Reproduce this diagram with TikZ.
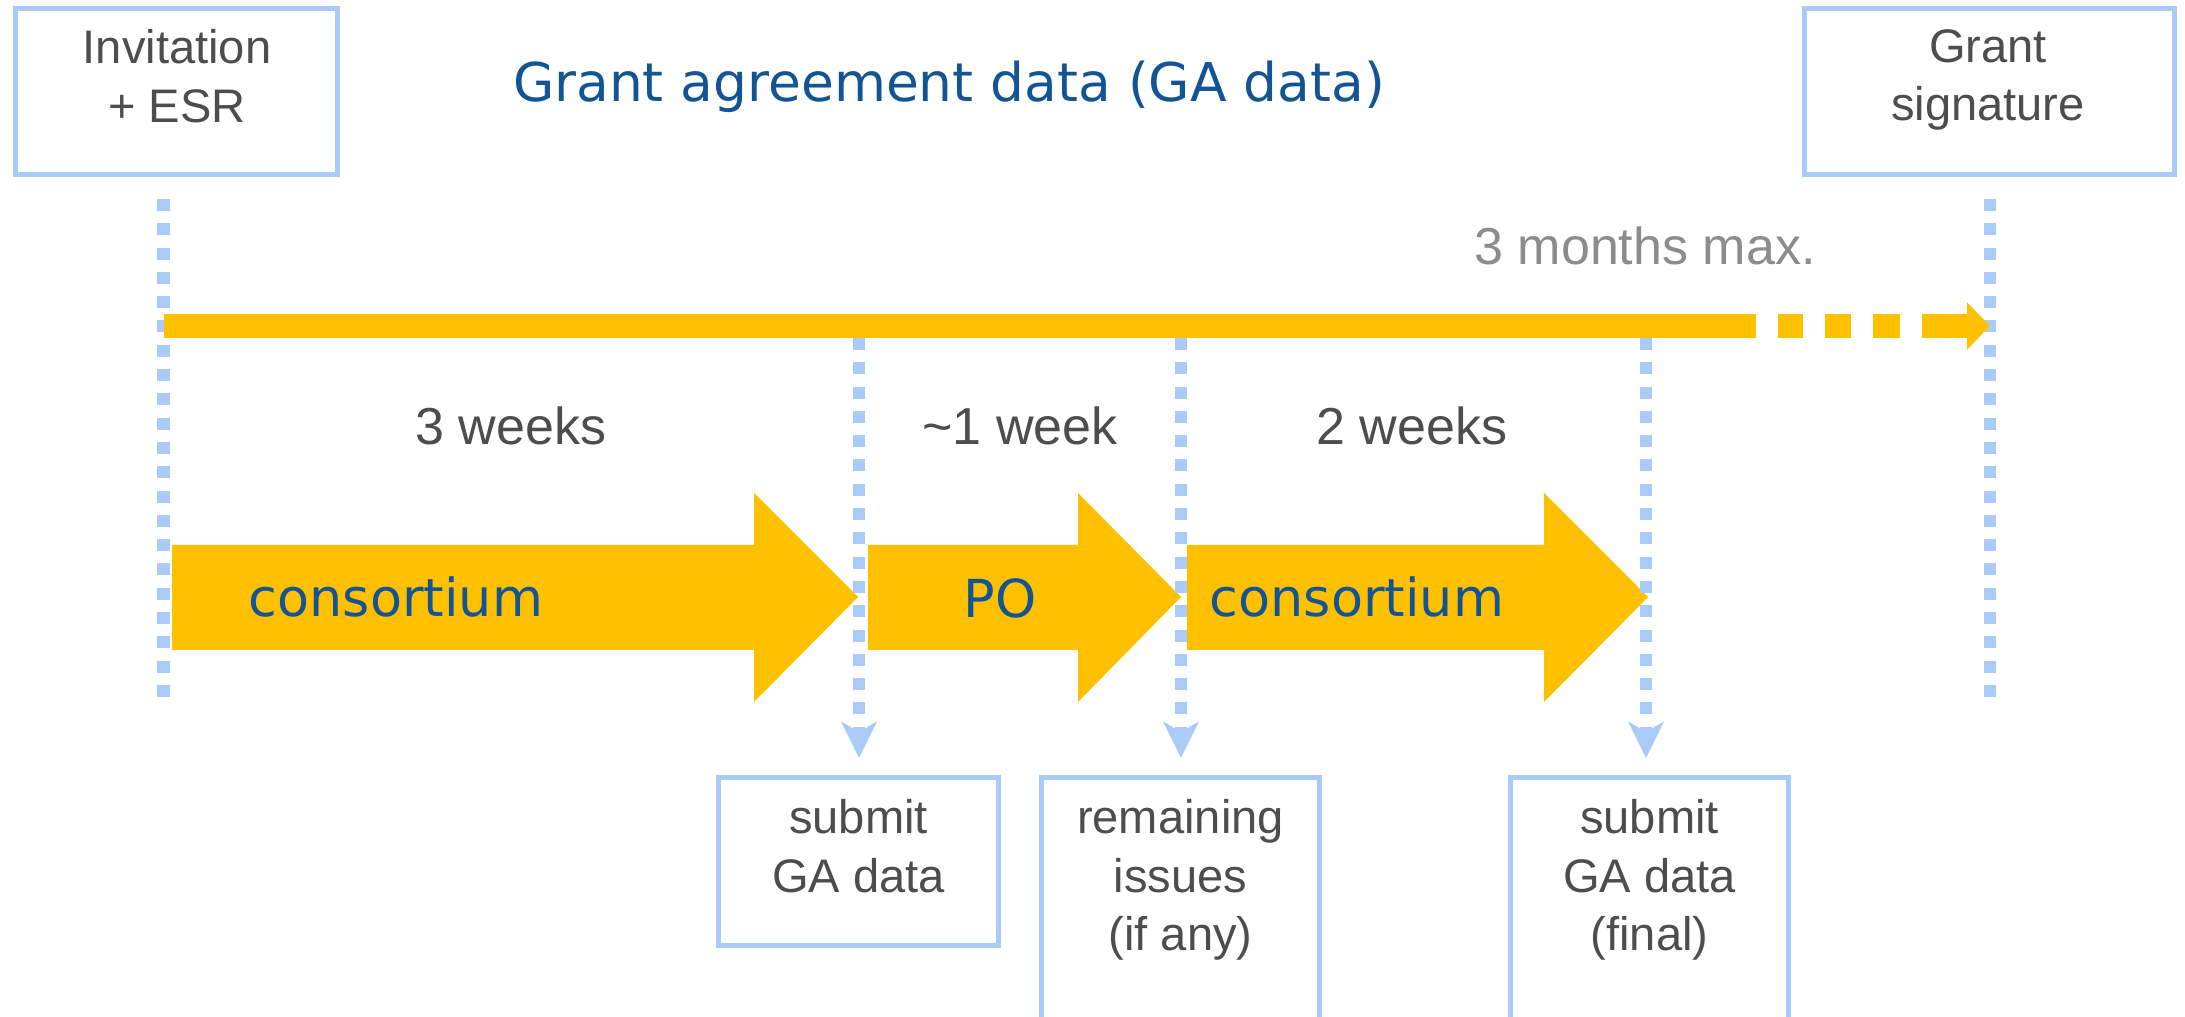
\documentclass[tikz,border=0pt]{standalone}
\usepackage{fontspec}
\setmainfont{Liberation Sans}
\newfontfamily\verd{DejaVu Sans}
\usetikzlibrary{arrows.meta, positioning}

\definecolor{lblue}{RGB}{170,202,248}
\definecolor{orng}{RGB}{255,192,0}
\definecolor{tblue}{RGB}{19,84,148}
\definecolor{dgray}{RGB}{77,77,77}
\definecolor{mgray}{RGB}{140,140,140}

\tikzset{
  tbox/.style={draw=lblue, line width=0.05cm, inner sep=0pt, outer sep=0pt},
  btext/.style={font=\fontsize{13.4}{16.6}\selectfont, text=dgray, align=center, inner sep=0pt, anchor=north},
  weektxt/.style={font=\fontsize{14.8}{17}\selectfont, text=dgray, inner sep=0pt, anchor=base},
  arrowtxt/.style={font=\verd\fontsize{14.9}{17}\selectfont, text=tblue, inner sep=0pt, anchor=base},
  dots/.style={lblue, line width=0.125cm, dash pattern=on 0.12cm off 0.123cm},
}

\begin{document}
\begin{tikzpicture}
\useasboundingbox (0,0) rectangle (21.85,10.16);
\clip (0,0) rectangle (21.85,10.16);

% Top boxes and title
\node[tbox, minimum width=3.22cm, minimum height=1.66cm] (invite) at (1.765,9.245) {};
\node[btext] (invitetxt) at (1.77,9.87) {Invitation\\+ ESR};
\node[tbox, minimum width=3.70cm, minimum height=1.66cm] (grant) at (19.895,9.245) {};
\node[btext] (granttxt) at (19.88,9.87) {Grant\\signature};
\node[arrowtxt, font=\verd\fontsize{15.2}{18}\selectfont] (title) at (9.49,9.14) {Grant agreement data (GA data)};

% Long dotted lines
\coordinate (invtop) at (1.635,8.17);
\coordinate (invbot) at (1.635,3.18);
\coordinate (grtop) at (19.90,8.17);
\coordinate (grbot) at (19.90,3.18);
\draw[dots] (invtop) -- (invbot);
\draw[dots] (grtop) -- (grbot);

% Timeline
\coordinate (bar0) at (1.64,6.90);
\coordinate (bar1) at (19.90,6.90);
\draw[orng, line width=0.24cm,
  dash pattern=on 15.92cm off 0.22cm on 0.25cm off 0.22cm on 0.26cm off 0.22cm on 0.27cm off 0.22cm on 2cm,
  -{Triangle[length=0.23cm, width=0.46cm]}] (bar0) -- (bar1);
\node[weektxt, text=mgray] (maxtxt) at (16.45,7.51) {3 months max.};

% Big arrows
\foreach \a/\b/\c in {1.72/7.54/8.58, 8.68/10.78/11.81, 11.87/15.44/16.48} {
    \fill[orng] (\a,4.71) -- (\b,4.71) -- (\b,5.23) -- (\c,4.19) -- (\b,3.14) -- (\b,3.66) -- (\a,3.66) -- cycle;
}
\node[arrowtxt] (cons1) at (3.96,3.99) {consortium};
\node[arrowtxt] (po) at (10.00,3.98) {PO};
\node[arrowtxt] (cons2) at (13.57,3.99) {consortium};

% Durations
\node[weektxt] (w1) at (5.11,5.71) {3 weeks};
\node[weektxt] (w2) at (10.20,5.71) {\textasciitilde1 week};
\node[weektxt] (w3) at (14.12,5.71) {2 weeks};

% Bottom boxes
\node[tbox, minimum width=2.80cm, minimum height=1.68cm, anchor=north] (sub1) at (8.585,2.385) {};
\node[btext] (sub1txt) at (8.585,2.17) {submit\\GA data};
\node[tbox, minimum width=2.78cm, minimum height=3cm, anchor=north] (issues) at (11.805,2.385) {};
\node[btext] (issuestxt) at (11.805,2.17) {remaining\\issues\\(if any)};
\node[tbox, minimum width=2.78cm, minimum height=3cm, anchor=north] (sub2) at (16.495,2.385) {};
\node[btext] (sub2txt) at (16.495,2.17) {submit\\GA data\\(final)};

% Dotted arrows down to the boxes
\coordinate (d1) at (8.59,6.78);
\coordinate (d2) at (11.81,6.78);
\coordinate (d3) at (16.46,6.78);
\foreach \s/\t in {d1/sub1, d2/issues, d3/sub2} {
    \draw[dots, -{Stealth[length=0.36cm, width=0.35cm, inset=0.1cm]}, shorten >=0.195cm] (\s) -- (\s |- \t.north);
}
\end{tikzpicture}
\end{document}
